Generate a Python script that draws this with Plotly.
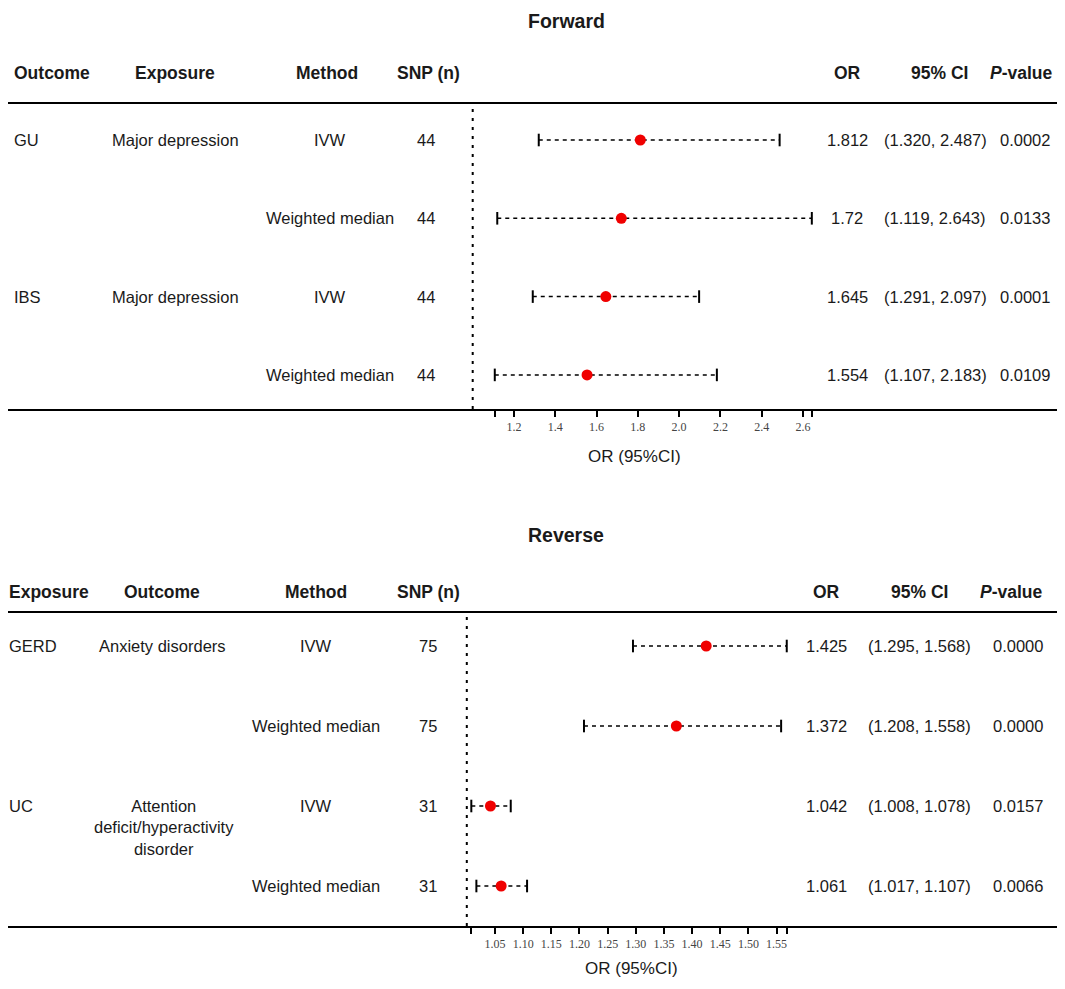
import plotly.graph_objects as go

W, H = 1065, 989
OFF = 8                      # page body margin around the plot div
FW, FH = W - 2 * OFF, H - 2 * OFF

# ---- data ----
fwd_outcome = ["GU", "", "IBS", ""]
fwd_exposure = ["Major depression", "", "Major depression", ""]
fwd_method = ["IVW", "Weighted median", "IVW", "Weighted median"]
fwd_snp = [44, 44, 44, 44]
fwd_or = [1.812, 1.72, 1.645, 1.554]
fwd_lo = [1.320, 1.119, 1.291, 1.107]
fwd_hi = [2.487, 2.643, 2.097, 2.183]
fwd_or_txt = ["1.812", "1.72", "1.645", "1.554"]
fwd_p = ["0.0002", "0.0133", "0.0001", "0.0109"]
fwd_ticks = [1.107, 1.2, 1.4, 1.6, 1.8, 2.0, 2.2, 2.4, 2.6, 2.643]
fwd_ticktext = ["", "1.2", "1.4", "1.6", "1.8", "2.0", "2.2", "2.4", "2.6", ""]

rev_exposure = ["GERD", "", "UC", ""]
rev_outcome = ["Anxiety disorders", "", "Attention<br>deficit/hyperactivity<br>disorder", ""]
rev_method = ["IVW", "Weighted median", "IVW", "Weighted median"]
rev_snp = [75, 75, 31, 31]
rev_or = [1.425, 1.372, 1.042, 1.061]
rev_lo = [1.295, 1.208, 1.008, 1.017]
rev_hi = [1.568, 1.558, 1.078, 1.107]
rev_p = ["0.0000", "0.0000", "0.0157", "0.0066"]
rev_ticks = [1.008, 1.05, 1.10, 1.15, 1.20, 1.25, 1.30, 1.35, 1.40, 1.45, 1.50, 1.55, 1.568]
rev_ticktext = ["", "1.05", "1.10", "1.15", "1.20", "1.25", "1.30", "1.35", "1.40",
                "1.45", "1.50", "1.55", ""]

SANS = "Liberation Sans, Arial, sans-serif"
SERIF = "Liberation Serif, DejaVu Serif, serif"
TXT = 16.5
HDR = 17.5


def px(x):
    return (x - OFF) / FW


def py(y):
    return 1 - (y - OFF) / FH


fig = go.Figure()
annots = []
shapes = []


def txt(x, y, s, size=TXT, bold=False, anchor="center", yanchor="middle"):
    annots.append(dict(x=px(x), y=py(y), xref="paper", yref="paper", text=("<b>%s</b>" % s) if bold else s,
                       showarrow=False, xanchor=anchor, yanchor=yanchor,
                       font=dict(family=SANS, size=size, color="#1a1a1a")))


def forest(xa, ya, ors, lo, hi):
    rows = list(range(len(ors)))
    for r in rows:
        fig.add_trace(go.Scatter(x=[lo[r], hi[r]], y=[r, r], mode="lines", xaxis=xa, yaxis=ya,
                                 line=dict(color="black", width=1.5, dash="4px,4px"),
                                 showlegend=False, hoverinfo="skip"))
    fig.add_trace(go.Scatter(x=lo + hi, y=rows + rows, mode="markers", xaxis=xa, yaxis=ya,
                             marker=dict(symbol="line-ns", size=9, line=dict(color="black", width=2)),
                             showlegend=False, hoverinfo="skip"))
    fig.add_trace(go.Scatter(x=ors, y=rows, mode="markers", xaxis=xa, yaxis=ya,
                             marker=dict(color="#f00000", size=11),
                             showlegend=False))


forest("x", "y", fwd_or, fwd_lo, fwd_hi)
forest("x2", "y2", rev_or, rev_lo, rev_hi)

# ---- Forward table ----
txt(566, 21, "Forward", size=19.5, bold=True)
hy = 73
txt(12, hy, "Outcome", size=HDR, bold=True, anchor="left")
txt(175, hy, "Exposure", size=HDR, bold=True)
txt(327, hy, "Method", size=HDR, bold=True)
txt(428, hy, "SNP (n)", size=HDR, bold=True)
txt(847, hy, "OR", size=HDR, bold=True)
txt(939, hy, "95% CI", size=HDR, bold=True)
txt(1021, hy, "<i>P</i>-value", size=HDR, bold=True)
shapes.append(dict(type="line", xref="paper", yref="paper", x0=0, x1=1, y0=py(103), y1=py(103),
                   line=dict(color="black", width=2)))
for i in range(4):
    yy = 140 + 78.3 * i
    txt(12, yy, fwd_outcome[i], anchor="left")
    txt(175, yy, fwd_exposure[i])
    txt(330, yy, fwd_method[i])
    txt(426, yy, str(fwd_snp[i]))
    txt(847, yy, fwd_or_txt[i])
    txt(935, yy, "(%.3f, %.3f)" % (fwd_lo[i], fwd_hi[i]))
    txt(1025, yy, fwd_p[i])
txt(634, 456, "OR (95%CI)", size=17)

# ---- Reverse table ----
txt(566, 535, "Reverse", size=19.5, bold=True)
hy = 592
txt(7, hy, "Exposure", size=HDR, bold=True, anchor="left")
txt(162, hy, "Outcome", size=HDR, bold=True)
txt(316, hy, "Method", size=HDR, bold=True)
txt(428, hy, "SNP (n)", size=HDR, bold=True)
txt(826, hy, "OR", size=HDR, bold=True)
txt(919, hy, "95% CI", size=HDR, bold=True)
txt(1011, hy, "<i>P</i>-value", size=HDR, bold=True)
shapes.append(dict(type="line", xref="paper", yref="paper", x0=0, x1=1, y0=py(612), y1=py(612),
                   line=dict(color="black", width=2)))
for i in range(4):
    yy = 646 + 80 * i
    txt(7, yy, rev_exposure[i], anchor="left")
    if "<br>" in rev_outcome[i]:
        txt(164, yy - 11, rev_outcome[i], yanchor="top")
    else:
        txt(162, yy, rev_outcome[i])
    txt(316, yy, rev_method[i])
    txt(428, yy, str(rev_snp[i]))
    txt(826, yy, "%.3f" % rev_or[i])
    txt(919, yy, "(%.3f, %.3f)" % (rev_lo[i], rev_hi[i]))
    txt(1018, yy, rev_p[i])
txt(631, 968, "OR (95%CI)", size=17)

# null lines at OR = 1
for xr, yr in (("x", "y"), ("x2", "y2")):
    shapes.append(dict(type="line", xref=xr, yref=yr + " domain", x0=1, x1=1, y0=0, y1=1,
                       line=dict(color="black", width=2, dash="3px,6px")))

# axes: window pixel = origin + (OR - 1) * scale
f0, fs = 472.7, 206.4
r0, rs = 466.8, 563.3
fwd_range = [1 + (OFF - f0) / fs, 1 + (W - OFF - f0) / fs]
rev_range = [1 + (OFF - r0) / rs, 1 + (W - OFF - r0) / rs]

axis_common = dict(showgrid=False, zeroline=False, showline=True, linecolor="black", linewidth=2,
                   ticks="outside", ticklen=6, tickwidth=2, tickcolor="black",
                   tickfont=dict(family=SERIF, size=12, color="#444444"), fixedrange=True)

fy0, fy1, fr0 = 103, 409, 140
fstep = 78.3
ry0, ry1, rr0 = 612, 926, 646
rstep = 80

fig.update_layout(
    width=FW, height=FH,
    margin=dict(l=0, r=0, t=0, b=0),
    paper_bgcolor="white", plot_bgcolor="white",
    xaxis=dict(domain=[0, 1], range=fwd_range, tickmode="array", tickvals=fwd_ticks,
               ticktext=fwd_ticktext, anchor="y", **axis_common),
    yaxis=dict(domain=[py(fy1), py(fy0)], range=[(fy1 - fr0) / fstep, (fy0 - fr0) / fstep],
               visible=False, fixedrange=True),
    xaxis2=dict(domain=[0, 1], range=rev_range, tickmode="array", tickvals=rev_ticks,
                ticktext=rev_ticktext, anchor="y2", **axis_common),
    yaxis2=dict(domain=[py(ry1), py(ry0)], range=[(ry1 - rr0) / rstep, (ry0 - rr0) / rstep],
                visible=False, fixedrange=True),
    annotations=annots,
    shapes=shapes,
)

fig.write_html("out.html")
